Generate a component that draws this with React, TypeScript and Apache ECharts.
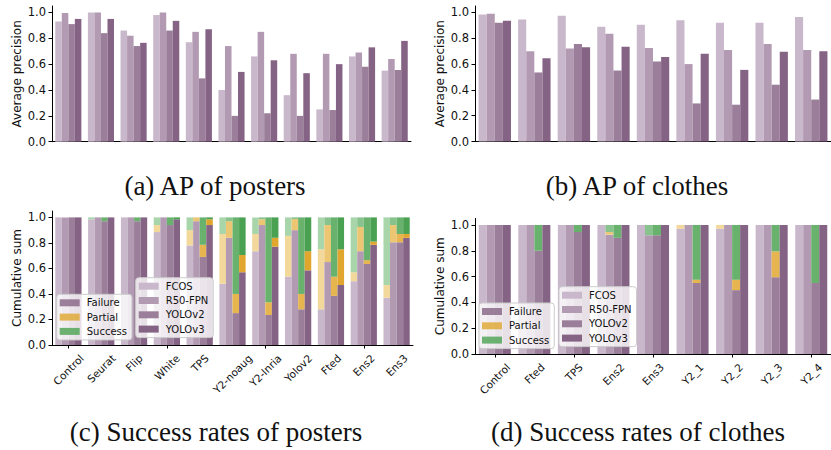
import { useEffect, useRef } from 'react';
import * as echarts from 'echarts';

const models = ['FCOS', 'R50-FPN', 'YOLOv2', 'YOLOv3'];
const outcomes = ['Failure', 'Partial', 'Success'];
const posterCategories = ['Control', 'Seurat', 'Flip', 'White', 'TPS', 'Y2-noaug', 'Y2-Inria', 'Yolov2', 'Fted', 'Ens2', 'Ens3'];
const clothesCategories = ['Control', 'Fted', 'TPS', 'Ens2', 'Ens3', 'Y2_1', 'Y2_2', 'Y2_3', 'Y2_4'];
const yTickValues = [0, 0.2, 0.4, 0.6, 0.8, 1.0];

// (a) AP of posters
const apPostersFCOS = [0.93, 1.0, 0.86, 0.98, 0.77, 0.4, 0.66, 0.36, 0.25, 0.66, 0.55];
const apPostersR50 = [0.995, 1.0, 0.82, 1.0, 0.85, 0.74, 0.85, 0.68, 0.68, 0.69, 0.64];
const apPostersYOLOv2 = [0.91, 0.84, 0.74, 0.86, 0.49, 0.2, 0.22, 0.2, 0.245, 0.58, 0.555];
const apPostersYOLOv3 = [0.95, 0.95, 0.765, 0.935, 0.87, 0.54, 0.63, 0.53, 0.6, 0.73, 0.78];

// (b) AP of clothes
const apClothesFCOS = [0.985, 0.945, 0.975, 0.89, 0.905, 0.94, 0.92, 0.92, 0.965];
const apClothesR50 = [0.99, 0.7, 0.72, 0.835, 0.725, 0.6, 0.71, 0.755, 0.71];
const apClothesYOLOv2 = [0.92, 0.535, 0.755, 0.55, 0.62, 0.295, 0.285, 0.44, 0.325];
const apClothesYOLOv3 = [0.935, 0.645, 0.73, 0.735, 0.655, 0.68, 0.555, 0.695, 0.7];

// (c) success rates of posters (rows: FCOS, R50-FPN, YOLOv2, YOLOv3)
const postersFailure = [
  [1, 0.985, 1, 0.885, 0.78, 0.48, 0.735, 0.535, 0.28, 0.5, 0.37],
  [1, 1, 1, 1, 0.97, 0.84, 0.94, 0.9, 0.65, 0.735, 0.805],
  [1, 0.97, 0.97, 0.94, 0.69, 0.25, 0.235, 0.28, 0.385, 0.635, 0.805],
  [1, 1, 1, 0.985, 0.94, 0.57, 0.77, 0.585, 0.47, 0.785, 0.84],
];
const postersPartial = [
  [0, 0, 0, 0.055, 0.12, 0.39, 0.135, 0.32, 0.47, 0.07, 0.1],
  [0, 0, 0, 0, 0.03, 0.13, 0.045, 0.087, 0.29, 0.19, 0.135],
  [0, 0, 0, 0, 0.095, 0.15, 0.1, 0.12, 0.15, 0.03, 0.065],
  [0, 0, 0, 0, 0.045, 0.135, 0.07, 0.15, 0.28, 0.025, 0.03],
];
const postersSuccess = [
  [0, 0.015, 0, 0.06, 0.1, 0.13, 0.13, 0.145, 0.25, 0.43, 0.53],
  [0, 0, 0, 0, 0, 0.03, 0.015, 0.013, 0.06, 0.075, 0.06],
  [0, 0.03, 0.03, 0.06, 0.215, 0.6, 0.665, 0.6, 0.465, 0.335, 0.13],
  [0, 0, 0, 0.015, 0.015, 0.295, 0.16, 0.265, 0.25, 0.19, 0.13],
];

// (d) success rates of clothes
const clothesFailure = [
  [1, 1, 1, 1, 1, 0.97, 0.97, 1, 1],
  [1, 1, 1, 0.925, 0.92, 1, 1, 1, 1],
  [1, 0.8, 0.945, 0.9, 0.92, 0.55, 0.495, 0.595, 0.55],
  [1, 1, 1, 1, 1, 1, 1, 1, 1],
];
const clothesPartial = [
  [0, 0, 0, 0, 0, 0.03, 0.03, 0, 0],
  [0, 0, 0, 0.02, 0, 0, 0, 0, 0],
  [0, 0, 0, 0, 0, 0.025, 0.08, 0.2, 0],
  [0, 0, 0, 0, 0, 0, 0, 0, 0],
];
const clothesSuccess = [
  [0, 0, 0, 0, 0, 0, 0, 0, 0],
  [0, 0, 0, 0.055, 0.08, 0, 0, 0, 0],
  [0, 0.2, 0.055, 0.1, 0.08, 0.425, 0.425, 0.205, 0.45],
  [0, 0, 0, 0, 0, 0, 0, 0, 0],
];

const purple = ['#c9b8cb', '#b39ab3', '#9b7f9a', '#856385'];
const orange = ['#f3d89c', '#ecc673', '#e6b54f', '#e0a62e'];
const green = ['#a9d5ab', '#88c28c', '#69b26e', '#4ba152'];
const outcomeColors = ['#856385', '#e0a62e', '#4ba152'];

const SANS = 'DejaVu Sans';
const SERIF = 'Liberation Serif';
const TXT = '#111';
const XLABEL_SIZE = 10.5;

let measureCtx: CanvasRenderingContext2D | null = null;
function textWidth(t: string, size: number) {
  if (!measureCtx) measureCtx = document.createElement('canvas').getContext('2d');
  if (!measureCtx) return t.length * size * 0.6;
  measureCtx.font = `${size}px "${SANS}"`;
  return measureCtx.measureText(t).width;
}

function yAxis(gridIndex: number, name: string) {
  return {
    type: 'value',
    gridIndex,
    min: 0,
    max: 1.05,
    interval: 0.2,
    name,
    nameLocation: 'middle',
    nameGap: 29,
    nameRotate: 90,
    nameTextStyle: { fontFamily: SANS, fontSize: 12, color: TXT },
    axisLine: { show: true, lineStyle: { color: '#000', width: 1 } },
    axisTick: { show: true, length: 3.5, customValues: yTickValues, lineStyle: { color: '#000', width: 1 } },
    axisLabel: {
      fontFamily: SANS,
      fontSize: 11.5,
      color: TXT,
      margin: 6,
      customValues: yTickValues,
      formatter: (v: number) => (Math.abs(v - 1.05) < 1e-6 ? '' : v.toFixed(1)),
    },
    splitLine: { show: false },
  };
}

function xAxis(gridIndex: number, data: string[], ticks: boolean) {
  return {
    type: 'category',
    gridIndex,
    data,
    axisLine: { show: true, lineStyle: { color: '#000', width: 1 } },
    axisTick: { show: ticks, alignWithLabel: true, length: 3.5, lineStyle: { color: '#000', width: 1 } },
    axisLabel: { show: false },
    splitLine: { show: false },
  };
}

function apSeries(axis: number, rows: number[][], gap: string) {
  return rows.map((d, i) => ({
    type: 'bar',
    name: models[i],
    xAxisIndex: axis,
    yAxisIndex: axis,
    data: d,
    itemStyle: { color: purple[i] },
    barGap: '0%',
    barCategoryGap: gap,
  }));
}

function stackSeries(axis: number, fail: number[][], part: number[][], succ: number[][], gap: string) {
  const out: any[] = [];
  models.forEach((m, i) => {
    const common = {
      type: 'bar',
      stack: `s${axis}_${i}`,
      xAxisIndex: axis,
      yAxisIndex: axis,
      barGap: '0%',
      barCategoryGap: gap,
    };
    out.push({ ...common, name: m, data: fail[i], itemStyle: { color: purple[i] } });
    out.push({ ...common, name: `${m} partial`, data: part[i], itemStyle: { color: orange[i] } });
    out.push({ ...common, name: `${m} success`, data: succ[i], itemStyle: { color: green[i] } });
  });
  return out;
}

function labelSeries(axis: number, cats: string[]) {
  return {
    type: 'custom',
    xAxisIndex: axis,
    yAxisIndex: axis,
    silent: true,
    clip: false,
    z: 5,
    data: cats.map((_, i) => [i, 0]),
    renderItem: (params: any, api: any) => {
      const idx = params.dataIndex;
      const p = api.coord([idx, 0]);
      const text = cats[idx];
      const w = textWidth(text, XLABEL_SIZE);
      const h = XLABEL_SIZE * 1.15;
      const half = ((w + h) * Math.SQRT1_2) / 2;
      return {
        type: 'text',
        x: p[0],
        y: p[1] + 7 + half,
        rotation: Math.PI / 4,
        style: {
          text,
          fontFamily: SANS,
          fontSize: XLABEL_SIZE,
          fill: TXT,
          align: 'center',
          verticalAlign: 'middle',
        },
      };
    },
  };
}

const legendBase = {
  orient: 'vertical',
  icon: 'rect',
  itemWidth: 20,
  itemHeight: 7,
  itemGap: 4.3,
  selectedMode: false,
  backgroundColor: 'rgba(255,255,255,0.8)',
  borderColor: '#cccccc',
  borderWidth: 1,
  borderRadius: 3,
  padding: [3.5, 5, 3.5, 3],
  textStyle: { fontFamily: SANS, fontSize: 10, color: TXT, padding: [0, 0, 0, 2] },
};

function caption(text: string, x: number, y: number) {
  return {
    type: 'text',
    x,
    y,
    style: { text, fontFamily: SERIF, fontSize: 27, fill: TXT, align: 'center', verticalAlign: 'middle' },
  };
}

export default function App() {
  const ref = useRef<HTMLDivElement>(null);
  useEffect(() => {
    if (!ref.current) return;
    const chart = echarts.init(ref.current, undefined, { renderer: 'svg' });
    const option: any = {
      animation: false,
      grid: [
        { left: 52, top: 6, width: 359, height: 135.7 },
        { left: 475, top: 6, width: 356, height: 135.5 },
        { left: 52, top: 211, width: 361, height: 134 },
        { left: 475, top: 218.5, width: 356, height: 135.5 },
      ],
      xAxis: [
        xAxis(0, posterCategories, false),
        xAxis(1, clothesCategories, false),
        xAxis(2, posterCategories, true),
        xAxis(3, clothesCategories, true),
      ],
      yAxis: [
        yAxis(0, 'Average precision'),
        yAxis(1, 'Average precision'),
        yAxis(2, 'Cumulative sum'),
        yAxis(3, 'Cumulative sum'),
      ],
      legend: [
        { ...legendBase, data: outcomes, left: 56.7, top: 294.3 },
        { ...legendBase, data: models, left: 135.7, top: 277.7 },
        { ...legendBase, data: outcomes, left: 479, top: 303 },
        { ...legendBase, data: models, left: 559, top: 286.7 },
      ],
      series: [
        ...apSeries(0, [apPostersFCOS, apPostersR50, apPostersYOLOv2, apPostersYOLOv3], '20%'),
        ...apSeries(1, [apClothesFCOS, apClothesR50, apClothesYOLOv2, apClothesYOLOv3], '18%'),
        ...stackSeries(2, postersFailure, postersPartial, postersSuccess, '20%'),
        ...stackSeries(3, clothesFailure, clothesPartial, clothesSuccess, '19%'),
        ...outcomes.map((o, i) => ({
          type: 'scatter',
          name: o,
          xAxisIndex: 2,
          yAxisIndex: 2,
          data: [],
          itemStyle: { color: outcomeColors[i] },
        })),
        labelSeries(2, posterCategories),
        labelSeries(3, clothesCategories),
      ],
      graphic: [
        caption('(a) AP of posters', 215, 186),
        caption('(b) AP of clothes', 637, 186),
        caption('(c) Success rates of posters', 216, 432),
        caption('(d) Success rates of clothes', 638, 432),
      ],
    };
    chart.setOption(option);
    return () => chart.dispose();
  }, []);
  return <div ref={ref} style={{ position: 'absolute', left: 0, top: 0, width: 831, height: 450 }} />;
}
